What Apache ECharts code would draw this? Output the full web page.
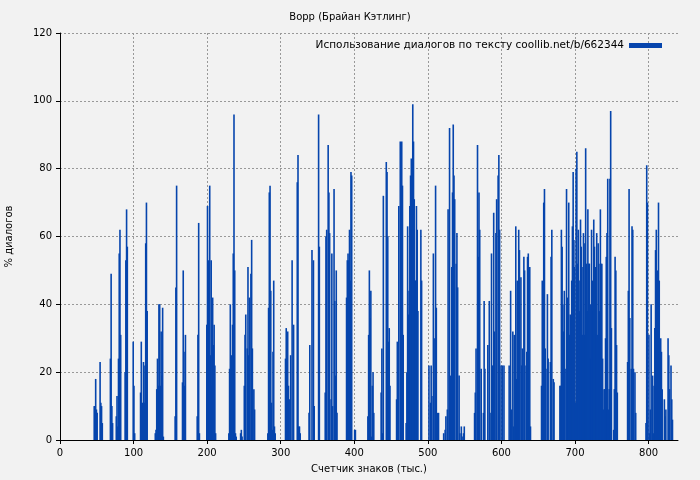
<!DOCTYPE html>
<html><head><meta charset="utf-8">
<script src="https://cdn.jsdelivr.net/npm/echarts@6/dist/echarts.min.js"></script>
<style>html,body{margin:0;padding:0;background:#f2f2f2}#c{width:700px;height:480px}</style>
</head><body><div id="c"></div>
<script>
const titleText = 'Ворр (Брайан Кэтлинг)';
const seriesName = 'Использование диалогов по тексту coollib.net/b/662344';
const xName = 'Счетчик знаков (тыс.)';
const yName = '% диалогов';
const startK = 40; // thousand chars of first value
const pct = [
0,0,0,0,0,0,10,10,18,9,
8,0,0,0,23,11,10,5,0,0,
0,0,0,0,0,0,0,0,24,49,
10,5,0,0,0,0,7,13,4,24,
55,62,31,0,0,0,0,0,20,53,
68,57,0,0,0,0,0,0,0,29,
16,2,0,0,0,0,0,0,0,14,
29,0,11,23,11,22,58,70,38,0,
0,0,0,0,0,0,0,0,0,2,
3,15,24,16,40,40,16,32,19,39,
1,0,0,0,0,0,0,0,0,0,
0,0,0,0,0,0,7,45,75,0,
0,0,0,0,0,0,17,50,26,16,
31,0,0,0,0,0,0,0,0,0,
0,0,0,0,0,0,7,31,64,2,
0,0,0,0,0,0,0,0,0,34,
69,53,45,75,25,53,16,42,28,34,
22,2,0,0,0,0,0,0,0,0,
0,0,0,0,0,0,0,0,0,2,
21,40,9,25,34,55,96,50,2,1,
0,0,0,0,0,2,3,1,0,0,
16,31,37,0,27,51,25,42,0,49,
59,27,0,15,9,0,0,0,0,0,
0,0,0,0,0,0,0,0,0,0,
0,0,2,39,73,75,44,11,3,26,
47,4,2,0,0,0,0,0,0,0,
0,0,0,0,0,0,24,33,0,32,
16,12,0,25,0,53,0,34,0,0,
0,0,76,84,4,4,2,0,0,0,
0,0,0,0,0,0,0,0,8,28,
0,0,56,0,53,10,0,0,0,0,
0,96,57,0,0,0,0,0,0,0,
14,60,62,0,87,73,61,0,12,55,
10,0,74,41,19,50,8,0,0,0,
0,0,0,0,0,0,0,0,0,42,
53,55,53,62,47,79,78,0,0,0,
3,3,0,0,0,0,0,0,0,0,
0,0,0,0,0,0,0,0,7,31,
50,36,44,1,16,20,8,0,0,0,
0,0,0,0,0,0,14,27,2,72,
0,0,0,82,79,60,29,33,16,0,
0,0,0,0,0,0,0,12,29,25,
69,0,88,60,88,75,31,0,0,0,
5,20,63,37,44,69,78,83,62,99,
88,71,47,47,69,62,38,0,0,0,
62,47,0,0,0,0,0,0,0,0,
0,22,0,11,22,13,0,55,30,0,
75,39,4,8,8,0,0,0,0,0,
0,2,0,3,7,0,9,68,0,92,
19,0,51,73,93,78,71,0,52,61,
45,0,19,2,0,4,1,0,2,4,
0,0,0,0,0,0,0,0,0,0,
0,0,0,8,14,27,0,87,54,73,
62,0,21,0,0,8,41,21,0,0,
0,28,0,41,8,0,55,22,0,67,
32,0,61,71,0,78,84,62,0,22,
0,22,0,22,0,0,0,0,0,0,
22,0,44,9,0,32,4,31,0,63,
18,47,0,62,56,0,48,22,27,0,
54,50,0,22,26,54,55,44,51,4,
0,0,0,0,0,0,0,0,0,0,
0,0,0,0,16,47,0,70,74,27,
21,0,43,24,0,0,23,54,62,0,
18,17,0,0,0,0,0,0,0,16,
16,62,57,40,32,44,21,0,74,42,
30,70,31,37,0,47,63,79,59,51,
11,80,85,52,62,47,38,65,57,51,
31,61,31,58,86,52,38,68,52,52,
24,40,62,47,38,65,57,51,31,61,
31,58,52,38,68,52,52,24,9,15,
15,30,54,61,77,9,15,77,97,33,
0,0,3,15,54,50,28,14,0,0,
0,0,0,0,0,0,0,0,0,0,
0,23,44,74,36,0,21,63,62,21,
0,20,8,0,0,0,0,0,0,0,
0,0,0,0,0,0,5,81,70,0,
31,2,9,40,0,19,2,16,33,56,
62,0,50,70,47,20,30,26,15,0,
0,12,7,9,0,0,30,25,15,0,
22,12,6,0,0,0,0,0,0,0
];
const xTicks = [0,100,200,300,400,500,600,700,800];
const points = pct.map((v,i)=>[startK+i+0.5, v]);
const font = 'DejaVu Sans';
const chart = echarts.init(document.getElementById('c'));
const gridLine = {show:true, lineStyle:{color:'#999', type:[2,2], width:1}};
chart.setOption({
  backgroundColor:'#f2f2f2',
  animation:false,
  textStyle:{fontFamily:font},
  title:{text:titleText, left:'center', top:7, textStyle:{fontSize:10, fontWeight:'normal', color:'#000', fontFamily:font}},
  legend:{data:[seriesName], right:33, top:35, align:'right', icon:'rect', itemWidth:33, itemHeight:5, itemGap:0,
    textStyle:{fontSize:10.5, color:'#000', fontFamily:font}},
  grid:{left:60, right:22, top:33, bottom:40, outerBoundsMode:'none', containLabel:false},
  xAxis:{type:'value', min:0, max:840, interval:100, name:xName, nameLocation:'middle', nameGap:24,
    nameTextStyle:{fontSize:10, color:'#000'},
    axisLabel:{fontSize:10, color:'#000', customValues:xTicks},
    axisTick:{customValues:xTicks, length:4, lineStyle:{color:'#000'}},
    axisLine:{lineStyle:{color:'#000'}}, splitLine:gridLine},
  yAxis:{type:'value', min:0, max:120, interval:20, name:yName, nameLocation:'middle', nameGap:46,
    nameTextStyle:{fontSize:10, color:'#000'},
    axisLabel:{fontSize:10, color:'#000'}, axisTick:{show:true, length:4, lineStyle:{color:'#000'}},
    axisLine:{show:true, lineStyle:{color:'#000'}}, splitLine:gridLine},
  series:[{name:seriesName, type:'bar', data:points, barWidth:1.6,
    itemStyle:{color:'#0645ad'}}]
});
</script></body></html>
